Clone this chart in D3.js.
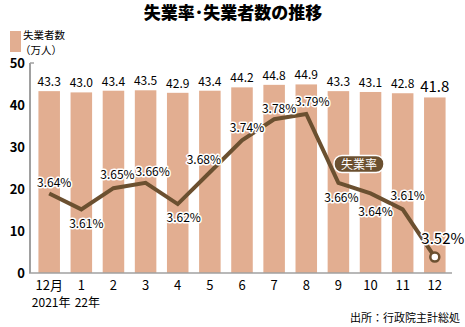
<!DOCTYPE html>
<html><head><meta charset="utf-8">
<script src="https://cdn.jsdelivr.net/npm/d3@7"></script>
<style>
body{margin:0;background:#fff;}
svg{display:block;font-family:"Liberation Sans Narrow","Noto Sans CJK JP",sans-serif;}
</style></head><body>
<svg id="chart" width="465" height="327"></svg>
<script>
// Monthly unemployment: persons (10k) and rate (%), Dec 2021 – Dec 2022
const months = ["12月","1","2","3","4","5","6","7","8","9","10","11","12"];
const unemployed = [43.3,43.0,43.4,43.5,42.9,43.4,44.2,44.8,44.9,43.3,43.1,42.8,41.8];
const rate = [3.64,3.61,3.65,3.66,3.62,3.68,3.74,3.78,3.79,3.66,3.64,3.61,3.52];
const yTicks = [0,10,20,30,40,50];
// label placement for each rate value (offset from its point)
const rateLabelOffset = [[5,-10],[5,15],[4,-13],[7,-11],[6,14],[-6,-12],[5,-12],[5,-10],[6,-12],[3,15],[5,19],[5,-13],[8,-17]];

const svg = d3.select("#chart");
const x = d3.scaleBand().domain(d3.range(months.length)).range([32,452]).paddingInner(0.33).paddingOuter(0.2);
const y = d3.scaleLinear().domain([0,50]).range([273,63]);
const yr = d3.scaleLinear().domain([3.49,3.886]).range([273,63]);
const barColor = "#e2ae91", lineColor = "#6b5030";

// title
svg.append("text").attr("x",233).attr("y",19).attr("text-anchor","middle")
  .attr("font-family","Noto Sans CJK JP").attr("font-weight",900).attr("font-size",17).text("失業率･失業者数の推移");

// legend
svg.append("rect").attr("x",10).attr("y",31).attr("width",11).attr("height",21).attr("fill",barColor);
svg.append("text").attr("x",23).attr("y",39).attr("font-family","Noto Sans CJK JP").attr("font-size",10.5).text("失業者数");
svg.append("text").attr("x",20).attr("y",54).attr("font-family","Noto Sans CJK JP").attr("font-size",10.5).text("（万人）");

// bars
svg.selectAll("rect.bar").data(unemployed).join("rect").attr("class","bar")
  .attr("x",(d,i)=>x(i)).attr("width",x.bandwidth())
  .attr("y",d=>y(d)).attr("height",d=>y(0)-y(d)).attr("fill",barColor);

// bar value labels
svg.selectAll("text.bv").data(unemployed).join("text").attr("class","bv")
  .attr("x",(d,i)=>x(i)+x.bandwidth()/2).attr("y",d=>y(d)-5)
  .attr("text-anchor","middle").attr("font-size",(d,i)=>i===unemployed.length-1?15:12)
  .text(d=>d.toFixed(1));

// axes
const axisColor = "#a0a0a0";
svg.append("line").attr("x1",30).attr("x2",30).attr("y1",y(50)).attr("y2",y(0)).attr("stroke",axisColor).attr("stroke-width",2);
svg.append("line").attr("x1",30).attr("x2",34).attr("y1",y(50)).attr("y2",y(50)).attr("stroke",axisColor).attr("stroke-width",1.5);
svg.append("line").attr("x1",29).attr("x2",452).attr("y1",y(0)).attr("y2",y(0)).attr("stroke",axisColor).attr("stroke-width",1.5);
svg.selectAll("text.yt").data(yTicks).join("text").attr("class","yt")
  .attr("x",25).attr("y",d=>y(d)+5).attr("text-anchor","end").attr("font-size",13).attr("font-weight",700).text(d=>d);

svg.selectAll("text.xt").data(months).join("text").attr("class","xt")
  .attr("x",(d,i)=>x(i)+x.bandwidth()/2).attr("y",290).attr("text-anchor","middle").attr("font-size",13).text(d=>d);
svg.append("text").attr("x",x(0)+x.bandwidth()/2+2).attr("y",307).attr("text-anchor","middle").attr("font-size",12).text("2021年");
svg.append("text").attr("x",x(1)+x.bandwidth()/2+6).attr("y",307).attr("text-anchor","middle").attr("font-size",12).text("22年");

// rate line
const line = d3.line().x((d,i)=>x(i)+x.bandwidth()/2).y(d=>yr(d));
svg.append("path").datum(rate).attr("d",line).attr("fill","none").attr("stroke",lineColor).attr("stroke-width",4).attr("stroke-linejoin","miter");
const last = rate.length-1;
svg.append("circle").attr("cx",x(last)+x.bandwidth()/2).attr("cy",yr(rate[last])).attr("r",4.5)
  .attr("fill","#fff").attr("stroke",lineColor).attr("stroke-width",2.5);

// rate labels with white halo
svg.selectAll("text.rv").data(rate).join("text").attr("class","rv")
  .attr("x",(d,i)=>x(i)+x.bandwidth()/2+rateLabelOffset[i][0])
  .attr("y",(d,i)=>yr(d)+rateLabelOffset[i][1]+4)
  .attr("text-anchor","middle").attr("font-size",(d,i)=>i===last?15:12)
  .attr("stroke","#fff").attr("stroke-width",3).attr("paint-order","stroke").attr("stroke-linejoin","round")
  .text(d=>d.toFixed(2)+"%");

// series tag
const tag = svg.append("g").attr("transform","translate(359,164)");
tag.append("rect").attr("x",-25).attr("y",-8.5).attr("width",50).attr("height",17).attr("rx",8)
  .attr("fill",lineColor).attr("stroke","#fff").attr("stroke-width",1.5);
tag.append("text").attr("y",4.5).attr("text-anchor","middle").attr("fill","#fff")
  .attr("font-family","Noto Sans CJK JP").attr("font-size",12).text("失業率");

// source
svg.append("text").attr("x",460).attr("y",322).attr("text-anchor","end")
  .attr("font-family","Noto Sans CJK JP").attr("font-size",11).text("出所：行政院主計総処");
</script>
</body></html>
